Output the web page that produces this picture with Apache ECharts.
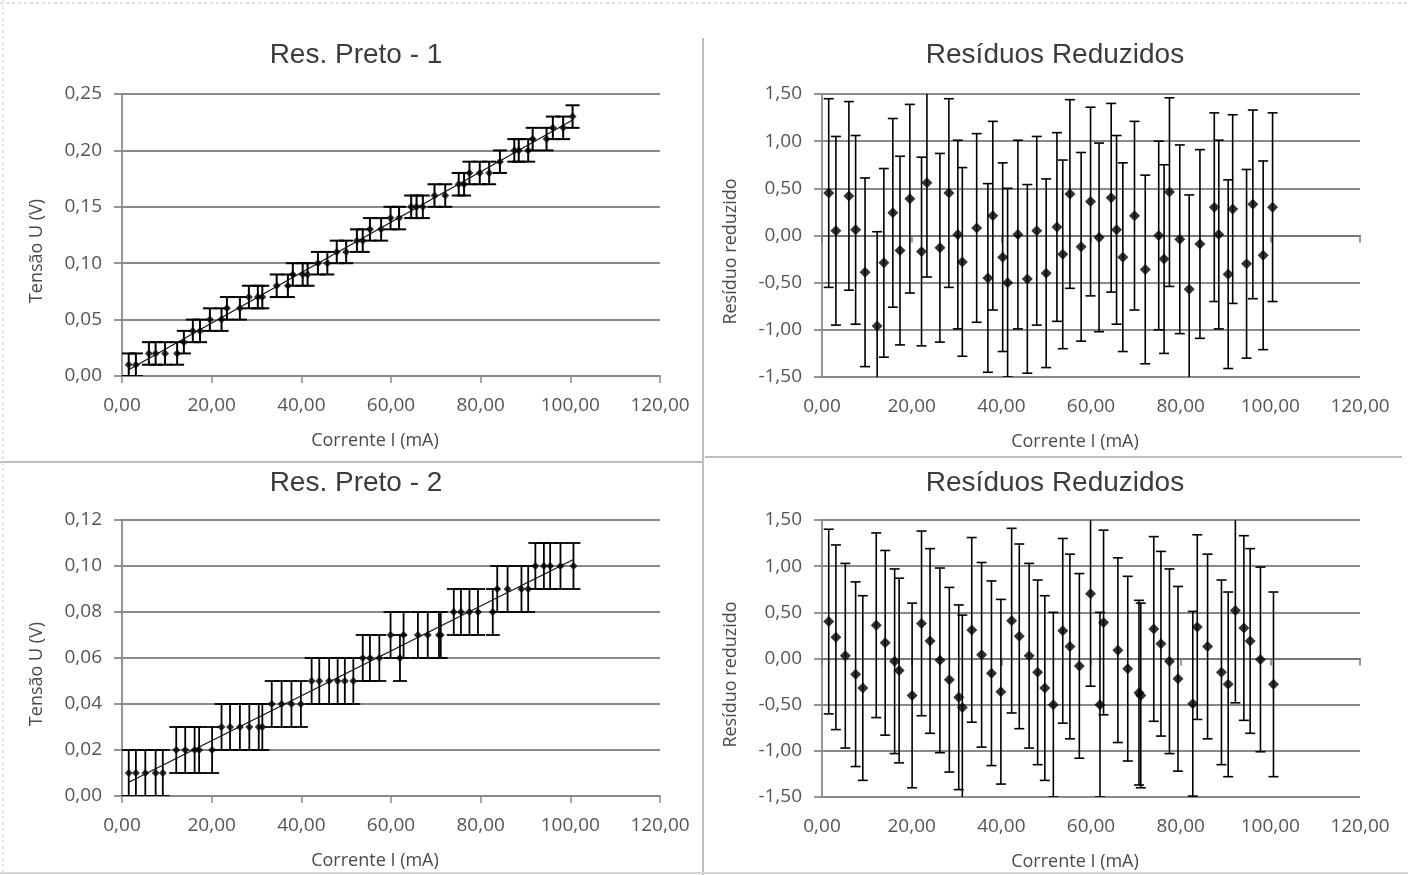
<!DOCTYPE html>
<html>
<head>
<meta charset="utf-8">
<title>Res. Preto</title>
<script src="https://cdn.jsdelivr.net/npm/echarts@6/dist/echarts.min.js"></script>
<style>
  html, body { margin: 0; padding: 0; background: #fff; }
  #chart { width: 1408px; height: 875px; }
</style>
</head>
<body>
<div id="chart"></div>
<script>
// Res. Preto - 1 : corrente (mA), tensão (V), resíduo reduzido
const current1 = [1.5, 3.1, 6.0, 7.5, 9.6, 12.3, 13.8, 15.8, 17.4, 19.6,
  22.2, 23.4, 26.3, 28.3, 30.3, 31.3, 34.5, 37.0, 38.1, 40.3,
  41.4, 43.7, 45.8, 47.9, 50.0, 52.4, 53.7, 55.3, 57.8, 59.9,
  61.8, 64.5, 65.7, 67.1, 69.7, 72.1, 75.1, 76.3, 77.5, 79.8,
  81.9, 84.3, 87.5, 88.5, 90.6, 91.6, 94.7, 96.1, 98.4, 100.5];
const voltage1 = [0.01, 0.01, 0.02, 0.02, 0.02, 0.02, 0.03, 0.04, 0.04, 0.05,
  0.05, 0.06, 0.06, 0.07, 0.07, 0.07, 0.08, 0.08, 0.09, 0.09,
  0.09, 0.10, 0.10, 0.11, 0.11, 0.12, 0.12, 0.13, 0.13, 0.14,
  0.14, 0.15, 0.15, 0.15, 0.16, 0.16, 0.17, 0.17, 0.18, 0.18,
  0.18, 0.19, 0.20, 0.20, 0.20, 0.21, 0.21, 0.22, 0.22, 0.23];
const residual1 = [0.45, 0.05, 0.42, 0.06, -0.39, -0.96, -0.29, 0.24, -0.16, 0.39,
  -0.17, 0.56, -0.13, 0.45, 0.01, -0.28, 0.08, -0.45, 0.21, -0.23,
  -0.50, 0.01, -0.46, 0.05, -0.40, 0.09, -0.20, 0.44, -0.12, 0.36,
  -0.02, 0.40, 0.06, -0.23, 0.21, -0.36, 0.00, -0.25, 0.46, -0.04,
  -0.57, -0.09, 0.30, 0.01, -0.41, 0.28, -0.30, 0.33, -0.21, 0.30];
const trend1 = [[1.5, 0.0055], [100.5, 0.227]];

// Res. Preto - 2
const current2 = [1.5, 3.1, 5.2, 7.5, 9.1, 12.1, 14.1, 16.2, 17.2, 20.1,
  22.2, 24.1, 26.3, 28.4, 30.5, 31.3, 33.4, 35.6, 37.8, 39.9,
  42.3, 44.0, 46.2, 48.1, 49.7, 51.6, 53.7, 55.3, 57.4, 59.9,
  62.0, 62.8, 66.0, 68.2, 70.7, 71.1, 74.0, 75.6, 77.5, 79.4,
  82.7, 83.7, 86.0, 89.1, 90.6, 92.2, 94.1, 95.5, 97.8, 100.7];
const voltage2 = [0.01, 0.01, 0.01, 0.01, 0.01, 0.02, 0.02, 0.02, 0.02, 0.02,
  0.03, 0.03, 0.03, 0.03, 0.03, 0.03, 0.04, 0.04, 0.04, 0.04,
  0.05, 0.05, 0.05, 0.05, 0.05, 0.05, 0.06, 0.06, 0.06, 0.07,
  0.06, 0.07, 0.07, 0.07, 0.07, 0.07, 0.08, 0.08, 0.08, 0.08,
  0.08, 0.09, 0.09, 0.09, 0.09, 0.10, 0.10, 0.10, 0.10, 0.10];
const residual2 = [0.40, 0.23, 0.03, -0.17, -0.32, 0.36, 0.17, -0.03, -0.13, -0.40,
  0.38, 0.19, -0.02, -0.23, -0.42, -0.53, 0.31, 0.04, -0.16, -0.36,
  0.41, 0.24, 0.03, -0.15, -0.32, -0.50, 0.30, 0.13, -0.08, 0.70,
  -0.50, 0.39, 0.09, -0.11, -0.37, -0.40, 0.32, 0.16, -0.03, -0.22,
  -0.49, 0.34, 0.13, -0.15, -0.28, 0.52, 0.33, 0.19, -0.01, -0.28];
const trend2 = [[1.5, 0.006], [100.7, 0.1028]];

// incertezas (barras de erro)
const voltageErr = 0.01;
const residualErr = 1;

const tickFont = "'Open Sans', sans-serif";
const titleFont = "'Liberation Sans', Arial, sans-serif";
const gridColor = '#8a8a8a';
const fmt = v => v.toFixed(2).replace('.', ',');

let myChart = echarts.init(document.getElementById('chart'), null, { renderer: 'canvas' });

function pairs(xs, ys) {
  return xs.map((x, i) => [x, ys[i]]);
}

// barras de erro verticais com traço nas pontas
function errorBars(xs, ys, err, cap, axisIdx, yIdx, width) {
  return {
    type: 'custom',
    xAxisIndex: axisIdx,
    yAxisIndex: yIdx,
    clip: true,
    z: 3,
    data: xs.map((x, i) => [x, ys[i] - err, ys[i] + err]),
    encode: { x: 0, y: [1, 2] },
    renderItem: function (params, api) {
      const lo = api.coord([api.value(0), api.value(1)]);
      const hi = api.coord([api.value(0), api.value(2)]);
      const style = { stroke: '#000', lineWidth: width, fill: null };
      return {
        type: 'group',
        children: [
          { type: 'line', shape: { x1: lo[0], y1: lo[1], x2: hi[0], y2: hi[1] }, style: style },
          { type: 'line', shape: { x1: lo[0] - cap, y1: lo[1], x2: lo[0] + cap, y2: lo[1] }, style: style },
          { type: 'line', shape: { x1: hi[0] - cap, y1: hi[1], x2: hi[0] + cap, y2: hi[1] }, style: style }
        ]
      };
    }
  };
}

function markers(xs, ys, size, axisIdx, yIdx) {
  return {
    type: 'scatter',
    xAxisIndex: axisIdx,
    yAxisIndex: yIdx,
    symbol: 'diamond',
    symbolSize: size,
    z: 4,
    itemStyle: { color: '#000' },
    data: pairs(xs, ys)
  };
}

function trendLine(points, axisIdx, yIdx) {
  return {
    type: 'line',
    xAxisIndex: axisIdx,
    yAxisIndex: yIdx,
    symbol: 'none',
    z: 2,
    lineStyle: { color: '#111', width: 1.2 },
    data: points
  };
}

const nameStyle = { color: '#4a4a4a', fontSize: 18, fontFamily: tickFont };

function xCurrent(grid, withLine) {
  return {
    type: 'value', gridIndex: grid, min: 0, max: 120, interval: 20,
    axisLine: { show: withLine, onZero: false, lineStyle: { color: gridColor, width: 1.8 } },
    axisTick: { show: withLine, length: 7, lineStyle: { color: gridColor, width: 1.5 } },
    axisLabel: { formatter: fmt, color: '#555', fontSize: 19, fontFamily: tickFont, margin: 20 },
    splitLine: { show: false },
    name: 'Corrente I (mA)', nameLocation: 'middle', nameGap: 56,
    nameTextStyle: Object.assign({ padding: [0, 32, 0, 0] }, nameStyle)
  };
}

function xZero(grid) {
  return {
    type: 'value', gridIndex: grid, min: 0, max: 120, interval: 20,
    position: 'bottom',
    axisLine: { show: true, onZero: true, lineStyle: { color: '#777', width: 1.8 } },
    axisTick: { show: true, length: 7, lineStyle: { color: '#777', width: 1.5 } },
    axisLabel: { show: false },
    splitLine: { show: false }
  };
}

function yValue(grid, min, max, step, name, gap) {
  return {
    type: 'value', gridIndex: grid, min: min, max: max, interval: step,
    axisLine: { show: true, lineStyle: { color: gridColor, width: 1.8 } },
    axisTick: { show: true, length: 8, lineStyle: { color: gridColor, width: 1.8 } },
    axisLabel: { formatter: fmt, color: '#555', fontSize: 19, fontFamily: tickFont, margin: 20 },
    splitLine: { show: true, lineStyle: { color: gridColor, width: 1.8 } },
    name: name, nameLocation: 'middle', nameGap: gap,
    nameTextStyle: Object.assign({ padding: [0, 32, 0, 0] }, nameStyle)
  };
}

function titleText(text, x, y) {
  return {
    type: 'text', x: x, y: y,
    style: { text: text, fill: '#3c3c3c', font: '28px ' + titleFont, textAlign: 'center', textVerticalAlign: 'middle' }
  };
}

function rule(x1, y1, x2, y2, color, dash) {
  return {
    type: 'line', shape: { x1: x1, y1: y1, x2: x2, y2: y2 },
    style: { stroke: color, lineWidth: 2, lineDash: dash || null }
  };
}

let option = {
  animation: false,
  backgroundColor: '#fff',
  grid: [
    { left: 122, top: 94, width: 538, height: 282 },
    { left: 822, top: 94, width: 538, height: 283 },
    { left: 122, top: 520, width: 538, height: 276 },
    { left: 822, top: 520, width: 538, height: 277 }
  ],
  xAxis: [
    xCurrent(0, true),
    xCurrent(1, false),
    xZero(1),
    xCurrent(2, true),
    xCurrent(3, false),
    xZero(3)
  ],
  yAxis: [
    yValue(0, 0, 0.25, 0.05, 'Tensão U (V)', 76),
    yValue(1, -1.5, 1.5, 0.5, 'Resíduo reduzido', 82),
    yValue(2, 0, 0.12, 0.02, 'Tensão U (V)', 76),
    yValue(3, -1.5, 1.5, 0.5, 'Resíduo reduzido', 82)
  ],
  graphic: [
    titleText('Res. Preto - 1', 356, 55),
    titleText('Resíduos Reduzidos', 1055, 55),
    titleText('Res. Preto - 2', 356, 483),
    titleText('Resíduos Reduzidos', 1055, 483),
    rule(703, 38, 703, 875, '#bdbdbd'),
    rule(0, 462, 703, 462, '#bdbdbd'),
    rule(705, 457, 1402, 457, '#bdbdbd'),
    rule(0, 873, 1408, 873, '#d6d6d6'),
    rule(0, 3, 1408, 3, '#e0e0e0', [3, 3]),
    rule(3, 0, 3, 875, '#e6e6e6', [3, 3])
  ],
  series: [
    trendLine(trend1, 0, 0),
    errorBars(current1, voltage1, voltageErr, 7, 0, 0, 2),
    markers(current1, voltage1, 8, 0, 0),
    errorBars(current1, residual1, residualErr, 5, 1, 1, 1.6),
    markers(current1, residual1, 11, 1, 1),
    trendLine(trend2, 3, 2),
    errorBars(current2, voltage2, voltageErr, 7, 3, 2, 1.8),
    markers(current2, voltage2, 8, 3, 2),
    errorBars(current2, residual2, residualErr, 5, 4, 3, 1.6),
    markers(current2, residual2, 11, 4, 3)
  ]
};

myChart.setOption(option);
</script>
</body>
</html>
